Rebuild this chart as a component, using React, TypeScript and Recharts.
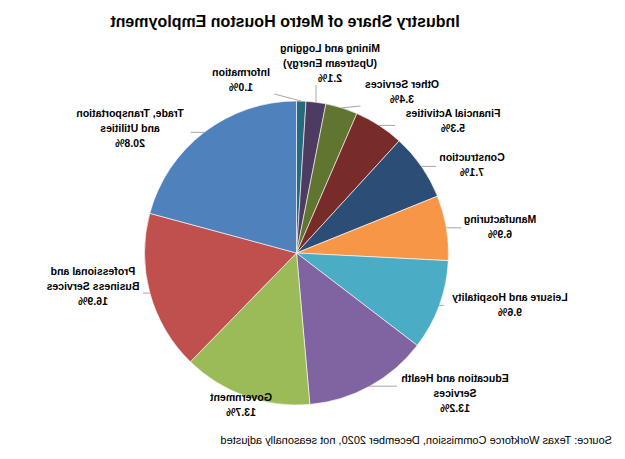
import React from "react";
import { PieChart, Pie, Cell } from "recharts";

// The reference picture is a horizontal mirror of the original chart,
// so the chart is drawn in its original orientation and mirrored as a whole.

const categories: string[] = [
  "Information",
  "Mining and Logging\n(Upstream Energy)",
  "Other Services",
  "Financial Activities",
  "Construction",
  "Manufacturing",
  "Leisure and Hospitality",
  "Education and Health\nServices",
  "Government",
  "Professional and\nBusiness Services",
  "Trade, Transportation\nand Utilities",
];

const shares: number[] = [1.0, 2.1, 3.4, 5.3, 7.1, 6.9, 9.6, 13.2, 13.7, 16.9, 20.8];

const colors: string[] = [
  "#276A7C",
  "#4D3B62",
  "#5F7530",
  "#772C2A",
  "#2C4D75",
  "#F79646",
  "#4BACC6",
  "#8064A2",
  "#9BBB59",
  "#C0504D",
  "#4F81BD",
];

// label block centre x and first-line y (layout only)
const labelLayout: [number, number][] = [
  [384, 72],
  [295, 48],
  [223, 84],
  [172, 113],
  [153, 157],
  [125, 219],
  [115, 297],
  [170, 378],
  [384, 397],
  [532, 271],
  [495, 113],
];

const title = "Industry Share of Metro Houston Employment";
const source = "Source: Texas Workforce Commission, December 2020, not seasonally adjusted";

const data = categories.map((name, i) => ({ name, value: shares[i] }));

const FONT = "'Liberation Sans', Arial, Helvetica, sans-serif";
const LINE_H = 15;

const renderLabel = (props: any) => {
  const { cx, cy, midAngle, outerRadius, index } = props;
  const RAD = Math.PI / 180;
  const ax = cx + outerRadius * Math.cos(-midAngle * RAD);
  const ay = cy + outerRadius * Math.sin(-midAngle * RAD);
  const lines = categories[index].split("\n").concat([shares[index].toFixed(1) + "%"]);
  const [lx, ly0] = labelLayout[index];
  const widest = Math.max(...lines.map((l) => l.length)) * 5.5;
  const half = widest / 2 + 3;
  const yTop = ly0 - 7;
  const yBot = ly0 + LINE_H * (lines.length - 1) + 7;
  const ex = Math.min(Math.max(ax, lx - half), lx + half);
  const ey = Math.min(Math.max(ay, yTop), yBot);
  return (
    <g key={"lbl" + index}>
      <line x1={ax} y1={ay} x2={ex} y2={ey} stroke="#a6a6a6" strokeWidth={1} />
      <text
        textAnchor="middle"
        dominantBaseline="central"
        fontFamily={FONT}
        fontWeight="bold"
        fontSize={10.5}
        fill="#000"
      >
        {lines.map((l, i) => (
          <tspan key={i} x={lx} y={ly0 + LINE_H * i}>
            {l}
          </tspan>
        ))}
      </text>
    </g>
  );
};

export default function App() {
  return (
    <div
      style={{
        position: "absolute",
        left: 0,
        top: 0,
        width: 625,
        height: 459,
        background: "#ffffff",
        transform: "scaleX(-1)",
        overflow: "hidden",
      }}
    >
      <div
        style={{
          position: "absolute",
          left: 90,
          top: 12,
          width: 500,
          textAlign: "center",
          fontFamily: FONT,
          fontWeight: "bold",
          fontSize: 16,
          lineHeight: "20px",
          color: "#000",
          whiteSpace: "nowrap",
        }}
      >
        {title}
      </div>
      <PieChart width={625} height={459} margin={{ top: 0, right: 0, bottom: 0, left: 0 }}>
        <Pie
          data={data}
          dataKey="value"
          nameKey="name"
          cx={328.5}
          cy={253}
          outerRadius={152}
          startAngle={90}
          endAngle={450}
          stroke="#ffffff"
          strokeWidth={0.6}
          label={renderLabel}
          labelLine={false}
          isAnimationActive={false}
        >
          {data.map((d, i) => (
            <Cell key={d.name} fill={colors[i]} />
          ))}
        </Pie>
      </PieChart>
      <div
        style={{
          position: "absolute",
          left: 13,
          top: 432,
          fontFamily: FONT,
          fontSize: 11,
          lineHeight: "16px",
          color: "#000",
          whiteSpace: "nowrap",
        }}
      >
        {source}
      </div>
    </div>
  );
}
